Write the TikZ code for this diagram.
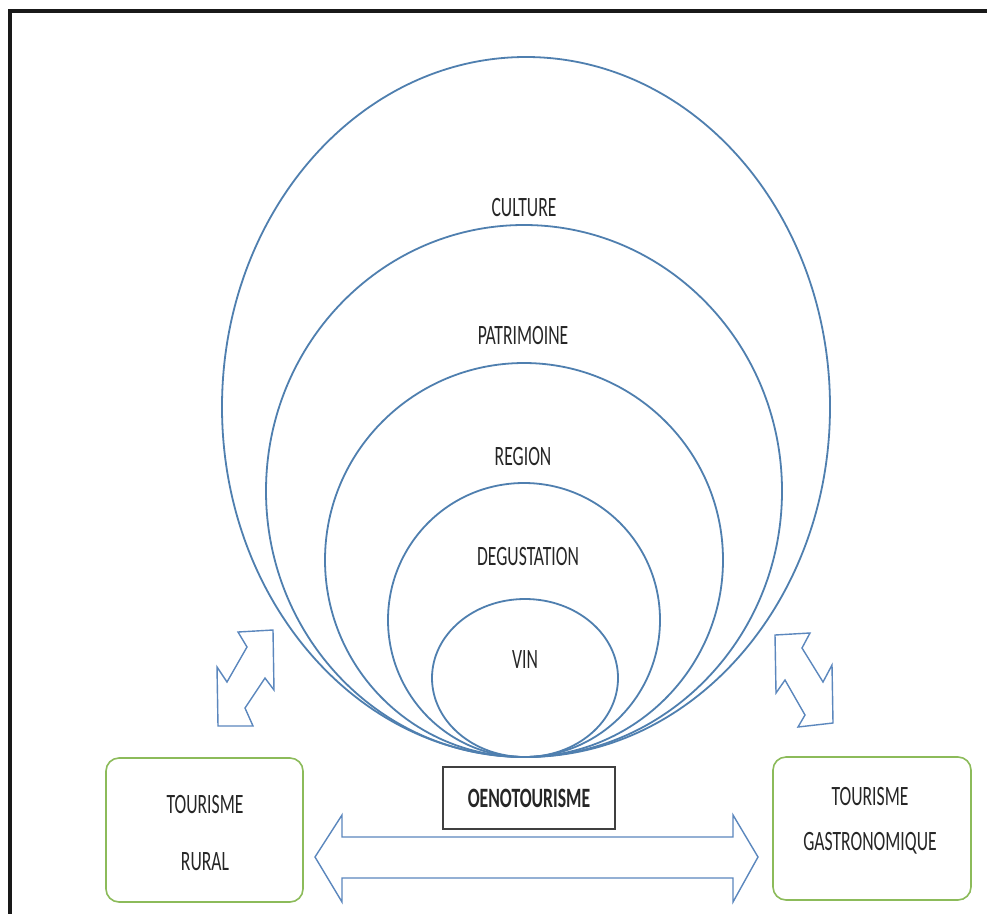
\documentclass[tikz,border=0pt]{standalone}
\usepackage{fontspec}
\setmainfont{Carlito}
\usepackage{graphicx}
\definecolor{ringblue}{HTML}{4F7FAF}
\definecolor{arrblue}{HTML}{5B87BD}
\definecolor{boxgreen}{HTML}{8CBB5A}
\definecolor{txt}{HTML}{262626}
\newcommand\lbl[1]{\scalebox{0.63}[1]{#1}}
\tikzset{
  ring/.style={draw=ringblue, line width=1.8pt},
  lab/.style={text=txt, inner sep=0pt, font=\fontsize{28}{30}\selectfont},
  greenbox/.style={draw=boxgreen, line width=1.6pt, rounded corners=13pt},
  hollowarrow/.style={draw=arrblue, line width=1.4pt, fill=white, line join=miter},
}
\begin{document}
\begin{tikzpicture}[x=1pt,y=-1pt]
\useasboundingbox (0,0) rectangle (987,913);
\clip (0,0) rectangle (987,913);
\fill[white] (0,0) rectangle (987,913);
% frame
\draw[line width=4pt, black!90] (10,11) rectangle (1010,940);
% nested ellipses
\draw[ring] (526,407) ellipse [x radius=304, y radius=350];
\draw[ring] (524,491) ellipse [x radius=258, y radius=266];
\draw[ring] (524,560) ellipse [x radius=199, y radius=197];
\draw[ring] (524,620) ellipse [x radius=136, y radius=137];
\draw[ring] (525,678) ellipse [x radius=93, y radius=79];
% labels
\node[lab] (culture) at (524,208) {\lbl{CULTURE}};
\node[lab] (patrimoine) at (523,336) {\lbl{PATRIMOINE}};
\node[lab] (region) at (523,457) {\lbl{REGION}};
\node[lab] (degustation) at (528,557) {\lbl{DEGUSTATION}};
\node[lab] (vin) at (525,660) {\lbl{VIN}};
% small diagonal double arrows
\draw[hollowarrow] (238,632) -- (273,630) -- (274,690) -- (265,678) -- (245,708) -- (253,726) -- (218,726) -- (217,667) -- (227,682) -- (247,647) -- cycle;
\draw[hollowarrow] (775,635) -- (810,633) -- (802,648) -- (823,682) -- (832,665) -- (833,723) -- (798,727) -- (805,715) -- (785,680) -- (776,693) -- cycle;
% large horizontal double arrow
\draw[hollowarrow] (315,857) -- (342,815) -- (342,837) -- (733,837) -- (733,815) -- (758,857) -- (733,902) -- (733,878) -- (342,878) -- (342,902) -- cycle;
% boxes
\draw[greenbox] (106,758) rectangle (303,902);
\node[lab] (tr1) at (205,805) {\lbl{TOURISME}};
\node[lab] (tr2) at (205,862) {\lbl{RURAL}};
\draw[greenbox] (773,757) rectangle (971,900);
\node[lab] (tg1) at (870,797) {\lbl{TOURISME}};
\node[lab] (tg2) at (870,843) {\lbl{GASTRONOMIQUE}};
\node[draw=black!75, line width=1.3pt, minimum width=172pt, minimum height=62pt, inner sep=0pt] (oeno) at (529,798) {};
\node[lab, font=\fontsize{28}{30}\selectfont\bfseries] (oenotxt) at (oeno.center) {\lbl{OENOTOURISME}};
\end{tikzpicture}
\end{document}
